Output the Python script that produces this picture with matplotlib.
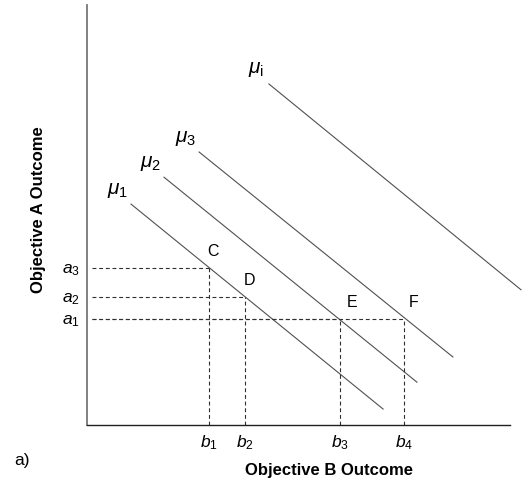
import numpy as np
import matplotlib
matplotlib.use("Agg")
import matplotlib.pyplot as plt

plt.rcParams["font.family"] = "Liberation Sans"
plt.rcParams["mathtext.fontset"] = "custom"
plt.rcParams["mathtext.rm"] = "Liberation Sans"
plt.rcParams["mathtext.it"] = "Liberation Sans:italic"

# indifference lines (start / end points in axis units 0..100)
curve_names = [r"$\mu_1$", r"$\mu_2$", r"$\mu_3$", r"$\mu_{\rm i}$"]
curve_x0 = [10.4, 18.2, 26.5, 43.0]
curve_y0 = [52.6, 59.0, 65.0, 81.2]
curve_x1 = [70.0, 78.0, 86.5, 102.6]
curve_y1 = [3.8, 10.2, 16.2, 32.2]

# marked points on the curves
pt_names = ["C", "D", "E", "F"]
pt_b = [28.8, 37.4, 59.8, 74.9]
pt_a = [37.4, 30.5, 25.2, 25.2]

a_labels = [r"$a_1$", r"$a_2$", r"$a_3$"]
a_vals = [25.2, 30.5, 37.4]
b_labels = [r"$b_1$", r"$b_2$", r"$b_3$", r"$b_4$"]
b_vals = pt_b


def main():
    fig = plt.figure(figsize=(5.25, 4.95), dpi=100)
    ax = fig.add_axes([87 / 525, 70 / 495, 423 / 525, 420 / 495])
    ax.set_xlim(0, 100)
    ax.set_ylim(0, 100)

    for name, x0, y0, x1, y1 in zip(curve_names, curve_x0, curve_y0, curve_x1, curve_y1):
        ax.plot([x0, x1], [y0, y1], color="#505050", lw=0.8, clip_on=False)
        ax.annotate(name, (x0, y0), xytext=(-13, 14), textcoords="offset pixels",
                    ha="center", va="center", fontsize=15)

    offs = [(-2, 9), (-1, 9), (7, 9), (5, 9)]
    for name, b, a, off in zip(pt_names, pt_b, pt_a, offs):
        ax.plot([1.2, b], [a, a], color="#303030", lw=0.8, ls=(0, (3.5, 2.5)))
        ax.plot([b, b], [0, a], color="#303030", lw=0.8, ls=(0, (3.5, 2.5)))
        ax.annotate(name, (b, a), xytext=off, textcoords="offset pixels",
                    ha="left", va="bottom", fontsize=11.5)

    ax.set_yticks(a_vals)
    ax.set_yticklabels(a_labels, fontsize=12.5)
    ax.set_xticks(b_vals)
    ax.set_xticklabels(b_labels, fontsize=12.5)
    ax.tick_params(length=0)
    ax.tick_params(axis="y", pad=5)
    ax.tick_params(axis="x", pad=6)

    ax.spines["top"].set_visible(False)
    ax.spines["right"].set_visible(False)
    ax.spines["left"].set_color("#777777")
    ax.spines["left"].set_linewidth(1.3)
    ax.spines["bottom"].set_color("#202020")
    ax.spines["bottom"].set_linewidth(1.0)

    fig.text(329 / 525, 1 - 471 / 495, "Objective B Outcome", ha="center", va="center",
             fontsize=12, fontweight="bold")
    fig.text(39 / 525, 1 - 210 / 495, "Objective A Outcome", ha="center", va="center",
             fontsize=12, fontweight="bold", rotation=90)
    fig.text(22 / 525, 1 - 460 / 495, "a)", ha="center", va="center", fontsize=12.5)

    fig.savefig("out.png", dpi=100)


if __name__ == "__main__":
    main()
